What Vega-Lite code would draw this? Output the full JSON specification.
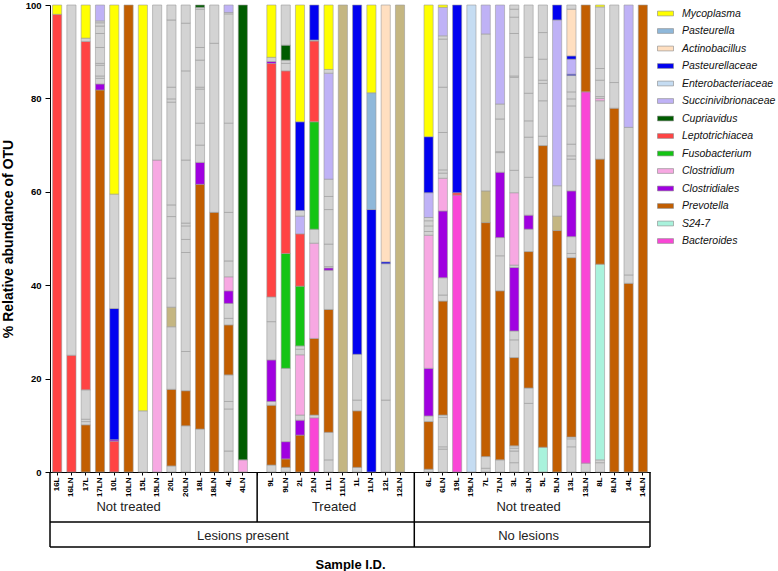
{
"$schema": "https://vega.github.io/schema/vega-lite/v6.json",
"width": 600, "height": 467,
"autosize": {"type": "none"},
"padding": {"left": 50, "top": 5, "right": 128, "bottom": 99},
"background": "white",
"config": {"view": {"stroke": null}, "axis": {"domainWidth": 1, "tickWidth": 1}},
"datasets": {
"bars": [
{"s":"16L","t":"Leptotrichiacea","v":98,"o":1},{"s":"16L","t":"Mycoplasma","v":2,"o":2},
{"s":"16LN","t":"Leptotrichiacea","v":25,"o":1},{"s":"16LN","t":"Other","v":75,"o":2},
{"s":"17L","t":"Prevotella","v":10.1,"o":1},{"s":"17L","t":"Other","v":0.7,"o":2},{"s":"17L","t":"Other","v":0.5,"o":3},{"s":"17L","t":"Other","v":6.3,"o":4},{"s":"17L","t":"Leptotrichiacea","v":74.6,"o":5},{"s":"17L","t":"Other","v":0.7,"o":6},{"s":"17L","t":"Mycoplasma","v":7.1,"o":7},
{"s":"17LN","t":"Prevotella","v":81.8,"o":1},{"s":"17LN","t":"Clostridiales","v":1.3,"o":2},{"s":"17LN","t":"Other","v":1.2,"o":3},{"s":"17LN","t":"Other","v":0.5,"o":4},{"s":"17LN","t":"Other","v":2.3,"o":5},{"s":"17LN","t":"Other","v":0.4,"o":6},{"s":"17LN","t":"Other","v":3.4,"o":7},{"s":"17LN","t":"Other","v":3.0,"o":8},{"s":"17LN","t":"Other","v":1.6,"o":9},{"s":"17LN","t":"Other","v":0.7,"o":10},{"s":"17LN","t":"Other","v":0.4,"o":11},{"s":"17LN","t":"Succinivibrionaceae","v":3.4,"o":12},
{"s":"10L","t":"Leptotrichiacea","v":6.6,"o":1},{"s":"10L","t":"Clostridiales","v":0.3,"o":2},{"s":"10L","t":"Pasteurellaceae","v":28.1,"o":3},{"s":"10L","t":"Other","v":24.5,"o":4},{"s":"10L","t":"Mycoplasma","v":40.5,"o":5},
{"s":"10LN","t":"Prevotella","v":100,"o":1},
{"s":"15L","t":"Other","v":13.1,"o":1},{"s":"15L","t":"Mycoplasma","v":86.9,"o":2},
{"s":"15LN","t":"Clostridium","v":66.8,"o":1},{"s":"15LN","t":"Other","v":33.2,"o":2},
{"s":"20L","t":"Other","v":1.3,"o":1},{"s":"20L","t":"Prevotella","v":16.4,"o":2},{"s":"20L","t":"Other","v":13.4,"o":3},{"s":"20L","t":"Unclassified","v":4.2,"o":4},{"s":"20L","t":"Other","v":6.2,"o":5},{"s":"20L","t":"Other","v":13.2,"o":6},{"s":"20L","t":"Other","v":2.5,"o":7},{"s":"20L","t":"Other","v":22.0,"o":8},{"s":"20L","t":"Other","v":0.7,"o":9},{"s":"20L","t":"Other","v":2.5,"o":10},{"s":"20L","t":"Other","v":14.4,"o":11},{"s":"20L","t":"Other","v":3.2,"o":12},
{"s":"20LN","t":"Other","v":9.9,"o":1},{"s":"20LN","t":"Prevotella","v":7.5,"o":2},{"s":"20LN","t":"Other","v":8.4,"o":3},{"s":"20LN","t":"Other","v":21.2,"o":4},{"s":"20LN","t":"Other","v":2.8,"o":5},{"s":"20LN","t":"Other","v":2.9,"o":6},{"s":"20LN","t":"Other","v":0.6,"o":7},{"s":"20LN","t":"Other","v":13.5,"o":8},{"s":"20LN","t":"Other","v":19.1,"o":9},{"s":"20LN","t":"Other","v":10.2,"o":10},{"s":"20LN","t":"Other","v":3.9,"o":11},
{"s":"18L","t":"Other","v":9.2,"o":1},{"s":"18L","t":"Prevotella","v":52.4,"o":2},{"s":"18L","t":"Clostridiales","v":4.7,"o":3},{"s":"18L","t":"Other","v":3.7,"o":4},{"s":"18L","t":"Other","v":4.7,"o":5},{"s":"18L","t":"Other","v":7.3,"o":6},{"s":"18L","t":"Other","v":0.4,"o":7},{"s":"18L","t":"Other","v":5.8,"o":8},{"s":"18L","t":"Other","v":2.7,"o":9},{"s":"18L","t":"Other","v":8.2,"o":10},{"s":"18L","t":"Other","v":0.4,"o":11},{"s":"18L","t":"Cupriavidus","v":0.5,"o":12},
{"s":"18LN","t":"Prevotella","v":55.6,"o":1},{"s":"18LN","t":"Other","v":36.2,"o":2},{"s":"18LN","t":"Other","v":8.2,"o":3},
{"s":"4L","t":"Other","v":4.5,"o":1},{"s":"4L","t":"Other","v":9.0,"o":2},{"s":"4L","t":"Other","v":1.6,"o":3},{"s":"4L","t":"Other","v":5.7,"o":4},{"s":"4L","t":"Prevotella","v":10.7,"o":5},{"s":"4L","t":"Other","v":1.4,"o":6},{"s":"4L","t":"Other","v":3.2,"o":7},{"s":"4L","t":"Clostridiales","v":2.7,"o":8},{"s":"4L","t":"Clostridium","v":3.0,"o":9},{"s":"4L","t":"Other","v":3.4,"o":10},{"s":"4L","t":"Other","v":10.4,"o":11},{"s":"4L","t":"Other","v":19.1,"o":12},{"s":"4L","t":"Other","v":23.4,"o":13},{"s":"4L","t":"Other","v":0.3,"o":14},{"s":"4L","t":"Succinivibrionaceae","v":1.6,"o":15},
{"s":"4LN","t":"Clostridium","v":2.6,"o":1},{"s":"4LN","t":"Cupriavidus","v":97.4,"o":2},
{"s":"9L","t":"Other","v":1.5,"o":1},{"s":"9L","t":"Prevotella","v":12.8,"o":2},{"s":"9L","t":"Other","v":0.8,"o":3},{"s":"9L","t":"Clostridiales","v":8.9,"o":4},{"s":"9L","t":"Other","v":8.2,"o":5},{"s":"9L","t":"Other","v":5.3,"o":6},{"s":"9L","t":"Leptotrichiacea","v":50.0,"o":7},{"s":"9L","t":"Clostridiales","v":0.4,"o":8},{"s":"9L","t":"Other","v":0.9,"o":9},{"s":"9L","t":"Mycoplasma","v":11.2,"o":10},
{"s":"9LN","t":"Other","v":1.0,"o":1},{"s":"9LN","t":"Prevotella","v":1.8,"o":2},{"s":"9LN","t":"Clostridiales","v":3.7,"o":3},{"s":"9LN","t":"Other","v":15.7,"o":4},{"s":"9LN","t":"Fusobacterium","v":24.6,"o":5},{"s":"9LN","t":"Leptotrichiacea","v":39.1,"o":6},{"s":"9LN","t":"Other","v":1.6,"o":7},{"s":"9LN","t":"Other","v":0.7,"o":8},{"s":"9LN","t":"Cupriavidus","v":3.2,"o":9},{"s":"9LN","t":"Other","v":8.6,"o":10},
{"s":"2L","t":"Prevotella","v":7.9,"o":1},{"s":"2L","t":"Clostridiales","v":3.2,"o":2},{"s":"2L","t":"Other","v":1.1,"o":3},{"s":"2L","t":"Clostridium","v":12.9,"o":4},{"s":"2L","t":"Other","v":1.2,"o":5},{"s":"2L","t":"Other","v":0.7,"o":6},{"s":"2L","t":"Fusobacterium","v":12.8,"o":7},{"s":"2L","t":"Leptotrichiacea","v":11.2,"o":8},{"s":"2L","t":"Succinivibrionaceae","v":3.8,"o":9},{"s":"2L","t":"Other","v":1.2,"o":10},{"s":"2L","t":"Pasteurellaceae","v":19.0,"o":11},{"s":"2L","t":"Mycoplasma","v":25.0,"o":12},
{"s":"2LN","t":"Bacteroides","v":11.6,"o":1},{"s":"2LN","t":"Other","v":0.6,"o":2},{"s":"2LN","t":"Prevotella","v":16.4,"o":3},{"s":"2LN","t":"Clostridium","v":20.4,"o":4},{"s":"2LN","t":"Other","v":3.0,"o":5},{"s":"2LN","t":"Fusobacterium","v":23.0,"o":6},{"s":"2LN","t":"Leptotrichiacea","v":17.3,"o":7},{"s":"2LN","t":"Other","v":0.2,"o":8},{"s":"2LN","t":"Pasteurellaceae","v":7.5,"o":9},
{"s":"11L","t":"Other","v":2.6,"o":1},{"s":"11L","t":"Other","v":5.9,"o":2},{"s":"11L","t":"Prevotella","v":26.3,"o":3},{"s":"11L","t":"Other","v":8.4,"o":4},{"s":"11L","t":"Clostridiales","v":0.5,"o":5},{"s":"11L","t":"Other","v":0.3,"o":6},{"s":"11L","t":"Other","v":4.8,"o":7},{"s":"11L","t":"Other","v":7.4,"o":8},{"s":"11L","t":"Other","v":2.8,"o":9},{"s":"11L","t":"Other","v":3.7,"o":10},{"s":"11L","t":"Succinivibrionaceae","v":22.7,"o":11},{"s":"11L","t":"Other","v":0.8,"o":12},{"s":"11L","t":"Mycoplasma","v":13.8,"o":13},
{"s":"11LN","t":"Unclassified","v":100,"o":1},
{"s":"1L","t":"Other","v":1.0,"o":1},{"s":"1L","t":"Prevotella","v":12.1,"o":2},{"s":"1L","t":"Other","v":2.3,"o":3},{"s":"1L","t":"Other","v":9.8,"o":4},{"s":"1L","t":"Pasteurellaceae","v":74.8,"o":5},
{"s":"1LN","t":"Pasteurellaceae","v":56.2,"o":1},{"s":"1LN","t":"Pasteurella","v":25.0,"o":2},{"s":"1LN","t":"Mycoplasma","v":18.8,"o":3},
{"s":"12L","t":"Other","v":15.4,"o":1},{"s":"12L","t":"Other","v":29.2,"o":2},{"s":"12L","t":"Pasteurellaceae","v":0.4,"o":3},{"s":"12L","t":"Actinobacillus","v":55.0,"o":4},
{"s":"12LN","t":"Unclassified","v":100,"o":1},
{"s":"6L","t":"Other","v":0.6,"o":1},{"s":"6L","t":"Prevotella","v":10.2,"o":2},{"s":"6L","t":"Other","v":1.2,"o":3},{"s":"6L","t":"Clostridiales","v":10.2,"o":4},{"s":"6L","t":"Clostridium","v":28.5,"o":5},{"s":"6L","t":"Other","v":0.8,"o":6},{"s":"6L","t":"Other","v":1.2,"o":7},{"s":"6L","t":"Other","v":1.1,"o":8},{"s":"6L","t":"Other","v":0.7,"o":9},{"s":"6L","t":"Succinivibrionaceae","v":5.3,"o":10},{"s":"6L","t":"Pasteurellaceae","v":12.0,"o":11},{"s":"6L","t":"Mycoplasma","v":28.2,"o":12},
{"s":"6LN","t":"Other","v":4.9,"o":1},{"s":"6LN","t":"Other","v":0.5,"o":2},{"s":"6LN","t":"Other","v":6.3,"o":3},{"s":"6LN","t":"Other","v":0.5,"o":4},{"s":"6LN","t":"Prevotella","v":24.4,"o":5},{"s":"6LN","t":"Other","v":1.3,"o":6},{"s":"6LN","t":"Other","v":3.7,"o":7},{"s":"6LN","t":"Clostridiales","v":14.3,"o":8},{"s":"6LN","t":"Clostridium","v":7.0,"o":9},{"s":"6LN","t":"Other","v":1.1,"o":10},{"s":"6LN","t":"Other","v":0.7,"o":11},{"s":"6LN","t":"Other","v":8.0,"o":12},{"s":"6LN","t":"Other","v":9.7,"o":13},{"s":"6LN","t":"Other","v":10.3,"o":14},{"s":"6LN","t":"Other","v":0.7,"o":15},{"s":"6LN","t":"Succinivibrionaceae","v":6.1,"o":16},{"s":"6LN","t":"Mycoplasma","v":0.5,"o":17},
{"s":"19L","t":"Bacteroides","v":59.3,"o":1},{"s":"19L","t":"Leptotrichiacea","v":0.5,"o":2},{"s":"19L","t":"Pasteurellaceae","v":40.2,"o":3},
{"s":"19LN","t":"Enterobacteriaceae","v":100,"o":1},
{"s":"7L","t":"Other","v":0.8,"o":1},{"s":"7L","t":"Other","v":2.5,"o":2},{"s":"7L","t":"Prevotella","v":50.1,"o":3},{"s":"7L","t":"Unclassified","v":6.8,"o":4},{"s":"7L","t":"Other","v":33.6,"o":5},{"s":"7L","t":"Succinivibrionaceae","v":6.2,"o":6},
{"s":"7LN","t":"Other","v":2.6,"o":1},{"s":"7LN","t":"Prevotella","v":36.2,"o":2},{"s":"7LN","t":"Other","v":7.5,"o":3},{"s":"7LN","t":"Other","v":3.9,"o":4},{"s":"7LN","t":"Clostridiales","v":14.0,"o":5},{"s":"7LN","t":"Other","v":4.2,"o":6},{"s":"7LN","t":"Other","v":0.2,"o":7},{"s":"7LN","t":"Other","v":7.0,"o":8},{"s":"7LN","t":"Other","v":3.2,"o":9},{"s":"7LN","t":"Succinivibrionaceae","v":21.2,"o":10},
{"s":"3L","t":"Other","v":2.0,"o":1},{"s":"3L","t":"Other","v":2.5,"o":2},{"s":"3L","t":"Other","v":0.6,"o":3},{"s":"3L","t":"Other","v":0.5,"o":4},{"s":"3L","t":"Prevotella","v":18.9,"o":5},{"s":"3L","t":"Other","v":3.8,"o":6},{"s":"3L","t":"Other","v":1.9,"o":7},{"s":"3L","t":"Clostridiales","v":13.6,"o":8},{"s":"3L","t":"Other","v":0.5,"o":9},{"s":"3L","t":"Clostridium","v":15.5,"o":10},{"s":"3L","t":"Other","v":4.8,"o":11},{"s":"3L","t":"Other","v":19.9,"o":12},{"s":"3L","t":"Other","v":0.3,"o":13},{"s":"3L","t":"Other","v":9.1,"o":14},{"s":"3L","t":"Other","v":3.5,"o":15},{"s":"3L","t":"Other","v":1.7,"o":16},{"s":"3L","t":"Other","v":0.9,"o":17},
{"s":"3LN","t":"Other","v":14.7,"o":1},{"s":"3LN","t":"Other","v":3.3,"o":2},{"s":"3LN","t":"Prevotella","v":29.2,"o":3},{"s":"3LN","t":"Other","v":4.8,"o":4},{"s":"3LN","t":"Clostridiales","v":3.0,"o":5},{"s":"3LN","t":"Other","v":8.1,"o":6},{"s":"3LN","t":"Other","v":8.6,"o":7},{"s":"3LN","t":"Other","v":3.5,"o":8},{"s":"3LN","t":"Other","v":5.9,"o":9},{"s":"3LN","t":"Other","v":7.7,"o":10},{"s":"3LN","t":"Other","v":11.2,"o":11},
{"s":"5L","t":"S24-7","v":5.3,"o":1},{"s":"5L","t":"Prevotella","v":64.6,"o":2},{"s":"5L","t":"Other","v":2.0,"o":3},{"s":"5L","t":"Other","v":7.6,"o":4},{"s":"5L","t":"Other","v":3.7,"o":5},{"s":"5L","t":"Other","v":0.7,"o":6},{"s":"5L","t":"Other","v":4.5,"o":7},{"s":"5L","t":"Other","v":5.7,"o":8},{"s":"5L","t":"Other","v":5.9,"o":9},
{"s":"5LN","t":"Prevotella","v":51.7,"o":1},{"s":"5LN","t":"Unclassified","v":3.1,"o":2},{"s":"5LN","t":"Other","v":6.5,"o":3},{"s":"5LN","t":"Succinivibrionaceae","v":35.5,"o":4},{"s":"5LN","t":"Pasteurellaceae","v":3.2,"o":5},
{"s":"13L","t":"Other","v":5.4,"o":1},{"s":"13L","t":"Other","v":1.7,"o":2},{"s":"13L","t":"Other","v":0.4,"o":3},{"s":"13L","t":"Prevotella","v":38.4,"o":4},{"s":"13L","t":"Other","v":0.9,"o":5},{"s":"13L","t":"Other","v":3.6,"o":6},{"s":"13L","t":"Clostridiales","v":9.8,"o":7},{"s":"13L","t":"Other","v":6.8,"o":8},{"s":"13L","t":"Other","v":0.7,"o":9},{"s":"13L","t":"Other","v":2.5,"o":10},{"s":"13L","t":"Other","v":8.2,"o":11},{"s":"13L","t":"Other","v":1.5,"o":12},{"s":"13L","t":"Other","v":1.5,"o":13},{"s":"13L","t":"Other","v":3.5,"o":14},{"s":"13L","t":"Pasteurellaceae","v":0.3,"o":15},{"s":"13L","t":"Succinivibrionaceae","v":3.2,"o":16},{"s":"13L","t":"Pasteurellaceae","v":0.7,"o":17},{"s":"13L","t":"Actinobacillus","v":10.0,"o":18},{"s":"13L","t":"Other","v":0.9,"o":19},
{"s":"13LN","t":"Other","v":1.9,"o":1},{"s":"13LN","t":"Bacteroides","v":79.5,"o":2},{"s":"13LN","t":"Prevotella","v":18.6,"o":3},
{"s":"8L","t":"Other","v":2.0,"o":1},{"s":"8L","t":"Other","v":0.6,"o":2},{"s":"8L","t":"S24-7","v":41.9,"o":3},{"s":"8L","t":"Prevotella","v":22.5,"o":4},{"s":"8L","t":"Other","v":12.5,"o":5},{"s":"8L","t":"Clostridium","v":0.5,"o":6},{"s":"8L","t":"Other","v":0.4,"o":7},{"s":"8L","t":"Other","v":3.5,"o":8},{"s":"8L","t":"Other","v":2.5,"o":9},{"s":"8L","t":"Other","v":13.2,"o":10},{"s":"8L","t":"Mycoplasma","v":0.4,"o":11},
{"s":"8LN","t":"Prevotella","v":77.9,"o":1},{"s":"8LN","t":"Other","v":5.5,"o":2},{"s":"8LN","t":"Other","v":16.6,"o":3},
{"s":"14L","t":"Prevotella","v":40.4,"o":1},{"s":"14L","t":"Other","v":1.8,"o":2},{"s":"14L","t":"Other","v":31.6,"o":3},{"s":"14L","t":"Succinivibrionaceae","v":26.2,"o":4},
{"s":"14LN","t":"Prevotella","v":100,"o":1}
],
"hlines": [{"a":"16L","b":"14LN","y":-10.7},{"a":"16L","b":"14LN","y":-16.06}],
"leftline": [{"s":"16L","y":0,"y2":-16.06}],
"gaplines": [{"s":"gap1","y":0,"y2":-10.7},{"s":"gap2","y":0,"y2":-16.06}],
"rightline": [{"s":"14LN","y":0,"y2":-16.06}],
"labels": [{"s":"10LN","y":-7.5,"label":"Not treated"},{"s":"3LN","y":-7.5,"label":"Not treated"},{"s":"4LN","y":-13.7,"label":"Lesions present"},{"s":"3LN","y":-13.7,"label":"No lesions"}],
"labels2": [{"s":"11L","y":-7.5,"label":"Treated"}]
},
"layer": [
{
"data": {"name": "bars"},
"mark": {"type": "bar", "stroke": "#9a9a9a", "strokeWidth": 0.6},
"encoding": {
"x": {"field": "s", "type": "nominal", "title": "Sample I.D.",
 "scale": {"domain": ["16L","16LN","17L","17LN","10L","10LN","15L","15LN","20L","20LN","18L","18LN","4L","4LN","gap1","9L","9LN","2L","2LN","11L","11LN","1L","1LN","12L","12LN","gap2","6L","6LN","19L","19LN","7L","7LN","3L","3LN","5L","5LN","13L","13LN","8L","8LN","14L","14LN"], "paddingInner": 0.36, "paddingOuter": 0.18},
 "axis": {"labelExpr": "indexof(datum.value, 'gap') == 0 ? '' : datum.value", "labelAngle": -90, "labelAlign": "right", "labelBaseline": "middle", "labelFont": "Liberation Sans", "labelFontWeight": "bold", "labelFontSize": 8, "labelColor": "#000", "domainColor": "#000", "tickColor": "#000", "tickSize": 3, "labelPadding": 2, "titleFont": "Liberation Sans", "titleFontSize": 13, "titleFontWeight": "bold", "titleColor": "#000", "titlePadding": 62}},
"y": {"field": "v", "type": "quantitative", "stack": "zero", "title": "% Relative abundance of OTU",
 "scale": {"domain": [0, 100], "nice": false},
 "axis": {"values": [0, 20, 40, 60, 80, 100], "grid": false, "labelFont": "Liberation Sans", "labelFontWeight": "bold", "labelFontSize": 9.5, "labelColor": "#000", "domainColor": "#000", "tickColor": "#000", "tickSize": 5, "labelPadding": 4, "titleFont": "Liberation Sans", "titleFontSize": 14, "titleFontWeight": "bold", "titleColor": "#000", "titlePadding": 10}},
"color": {"field": "t", "type": "nominal",
 "scale": {"domain": ["Mycoplasma","Pasteurella","Actinobacillus","Pasteurellaceae","Enterobacteriaceae","Succinivibrionaceae","Cupriavidus","Leptotrichiacea","Fusobacterium","Clostridium","Clostridiales","Prevotella","S24-7","Bacteroides","Other","Unclassified"],
  "range": ["#FFFF00","#8FB8DA","#FFDFC0","#0000F0","#C5DCF2","#BFB2F6","#005C00","#FF4444","#14C414","#F7A8E2","#A000E0","#C25E00","#A9F2DC","#FA46D6","#D3D3D3","#C4B682"]},
 "legend": {"title": null, "values": ["Mycoplasma","Pasteurella","Actinobacillus","Pasteurellaceae","Enterobacteriaceae","Succinivibrionaceae","Cupriavidus","Leptotrichiacea","Fusobacterium","Clostridium","Clostridiales","Prevotella","S24-7","Bacteroides"],
  "orient": "none", "legendX": 607, "legendY": 0, "symbolType": "M-1,-0.3H1V0.3H-1Z", "symbolSize": 256, "symbolStrokeColor": "#888", "symbolStrokeWidth": 0.6, "symbolOpacity": 1,
  "labelFont": "Liberation Sans", "labelFontStyle": "italic", "labelFontSize": 10.5, "labelColor": "#111", "rowPadding": 3.5, "labelOffset": 8}},
"order": {"field": "o", "type": "quantitative"}
}
},
{
"data": {"name": "hlines"},
"mark": {"type": "rule", "color": "#000", "strokeWidth": 1.5},
"encoding": {
"x": {"field": "a", "type": "nominal", "bandPosition": -0.28},
"x2": {"field": "b", "bandPosition": 1.28},
"y": {"field": "y", "type": "quantitative"}
}
},
{
"data": {"name": "leftline"},
"mark": {"type": "rule", "color": "#000", "strokeWidth": 1.5},
"encoding": {
"x": {"field": "s", "type": "nominal", "bandPosition": -0.28},
"y": {"field": "y", "type": "quantitative"},
"y2": {"field": "y2"}
}
},
{
"data": {"name": "gaplines"},
"mark": {"type": "rule", "color": "#000", "strokeWidth": 1.5},
"encoding": {
"x": {"field": "s", "type": "nominal", "bandPosition": 0.5},
"y": {"field": "y", "type": "quantitative"},
"y2": {"field": "y2"}
}
},
{
"data": {"name": "rightline"},
"mark": {"type": "rule", "color": "#000", "strokeWidth": 1.5},
"encoding": {
"x": {"field": "s", "type": "nominal", "bandPosition": 1.28},
"y": {"field": "y", "type": "quantitative"},
"y2": {"field": "y2"}
}
},
{
"data": {"name": "labels"},
"mark": {"type": "text", "font": "Liberation Sans", "fontSize": 13, "color": "#222", "baseline": "middle", "align": "center"},
"encoding": {
"x": {"field": "s", "type": "nominal", "bandPosition": 0.5},
"y": {"field": "y", "type": "quantitative"},
"text": {"field": "label"}
}
},
{
"data": {"name": "labels2"},
"mark": {"type": "text", "font": "Liberation Sans", "fontSize": 13, "color": "#222", "baseline": "middle", "align": "center"},
"encoding": {
"x": {"field": "s", "type": "nominal", "bandPosition": 1.1},
"y": {"field": "y", "type": "quantitative"},
"text": {"field": "label"}
}
}
]
}
